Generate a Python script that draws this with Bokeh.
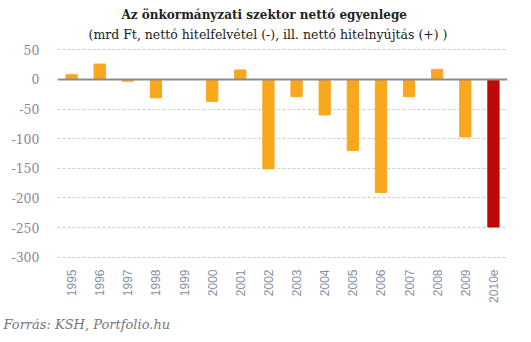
from bokeh.plotting import figure
from bokeh.models import ColumnDataSource, FactorRange, Range1d, Span, Title, FixedTicker
from bokeh.embed import file_html
from bokeh.resources import INLINE
import math

years = ["1995", "1996", "1997", "1998", "1999", "2000", "2001", "2002",
         "2003", "2004", "2005", "2006", "2007", "2008", "2009", "2010e"]
values = [8, 26, -3, -31, 0, -37, 16, -151, -29, -60, -120, -191, -29, 17, -97, -249]
y_ticks = [50, 0, -50, -100, -150, -200, -250, -300]

title_text = "Az önkormányzati  szektor  nettó  egyenlege"
subtitle_text = "(mrd Ft, nettó hitelfelvétel (-), ill. nettó hitelnyújtás (+) )"
source_text = "Forrás: KSH, Portfolio.hu"

ORANGE = "#F9A81E"
RED = "#C00808"
SERIF = "'DejaVu Serif', serif"
SANS = "'Liberation Sans', sans-serif"
colors = [RED if y.endswith("e") else ORANGE for y in years]

src = ColumnDataSource(dict(x=years, top=values, color=colors))

W, H = 531, 342
FL, FB = 57, 262  # frame left / bottom in canvas pixels

p = figure(width=W, height=H, output_backend="svg", toolbar_location=None,
           x_range=FactorRange(*years), y_range=Range1d(-309, 59),
           min_border_left=FL, min_border_right=24, min_border_top=44, min_border_bottom=H - FB)
p.outline_line_color = None
p.background_fill_color = "white"
p.border_fill_color = "white"

p.vbar(x="x", top="top", bottom=0, width=0.4, color="color", source=src)

p.add_layout(Span(location=0, dimension="width", line_color="#8c8c8c", line_width=2))

p.xgrid.grid_line_color = None
p.ygrid.grid_line_color = "#cccccc"
p.ygrid.grid_line_dash = "3 2"
p.ygrid.grid_line_width = 1

p.yaxis.ticker = FixedTicker(ticks=y_ticks)
p.yaxis.major_label_overrides = {t: str(t) for t in y_ticks}
p.yaxis.axis_line_color = None
p.yaxis.major_tick_line_color = None
p.yaxis.minor_tick_line_color = None
p.yaxis.major_label_standoff = 12
p.yaxis.major_label_text_font = SERIF
p.yaxis.major_label_text_font_size = "12.5px"
p.yaxis.major_label_text_color = "#8a8a8a"

p.xaxis.axis_line_color = None
p.xaxis.major_tick_line_color = None
p.xaxis.major_tick_out = 0
p.xaxis.major_label_standoff = 7
p.xaxis.major_label_orientation = math.pi / 2
p.xaxis.major_label_text_font = SANS
p.xaxis.major_label_text_font_size = "12px"
p.xaxis.major_label_text_color = "#8391a6"

p.add_layout(Title(text=subtitle_text, align="left", text_font=SERIF,
                   text_font_size="12.5px", text_font_style="normal", text_color="#222222",
                   standoff=6, offset=31), "above")
p.add_layout(Title(text=title_text, align="left", text_font=SERIF,
                   text_font_size="12px", text_font_style="bold", text_color="#222222",
                   standoff=0, offset=64), "above")
p.add_layout(Title(text=source_text, align="left", text_font=SERIF,
                   text_font_size="13px", text_font_style="italic", text_color="#777777",
                   standoff=19, offset=-54), "below")

open("out.html", "w").write(file_html(p, INLINE))
